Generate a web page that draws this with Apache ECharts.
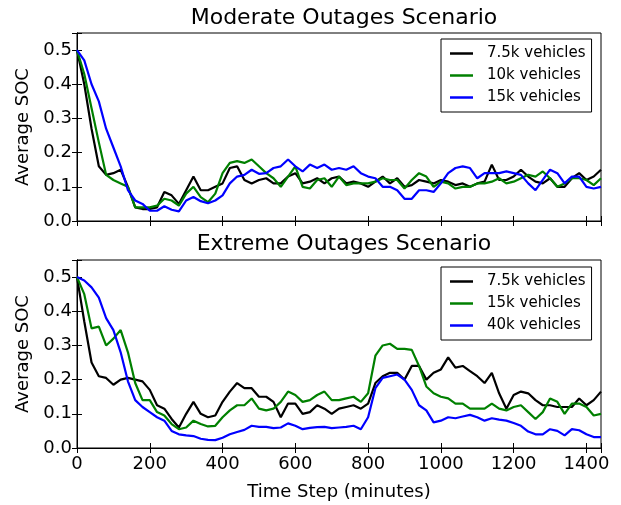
<!DOCTYPE html>
<html>
<head>
<meta charset="utf-8">
<script src="https://cdn.jsdelivr.net/npm/echarts@6/dist/echarts.min.js"></script>
<style>
html,body{margin:0;padding:0;background:#fff;}
#chart{width:621px;height:505px;}
</style>
</head>
<body>
<div id="chart"></div>
<script>
// Time steps (minutes)
const timeSteps = [
  0,20,40,60,80,100,120,140,160,180,
  200,220,240,260,280,300,320,340,360,380,
  400,420,440,460,480,500,520,540,560,580,
  600,620,640,660,680,700,720,740,760,780,
  800,820,840,860,880,900,920,940,960,980,
  1000,1020,1040,1060,1080,1100,1120,1140,1160,1180,
  1200,1220,1240,1260,1280,1300,1320,1340,1360,1380,
  1400,1420,1440
];

// Moderate Outages Scenario
const modNames = ['7.5k vehicles', '10k vehicles', '15k vehicles'];
const mod7_5k = [
  0.50,0.40,0.27,0.16,0.135,0.14,0.15,0.10,0.04,0.035,
  0.035,0.04,0.085,0.075,0.05,0.09,0.13,0.09,0.09,0.10,
  0.11,0.155,0.16,0.12,0.11,0.12,0.125,0.11,0.11,0.13,
  0.14,0.11,0.115,0.125,0.11,0.125,0.13,0.11,0.115,0.11,
  0.10,0.115,0.13,0.11,0.125,0.10,0.105,0.12,0.115,0.11,
  0.12,0.115,0.105,0.11,0.10,0.11,0.115,0.165,0.12,0.12,
  0.13,0.15,0.13,0.115,0.11,0.125,0.10,0.10,0.125,0.14,
  0.12,0.13,0.15
];
const mod10k = [
  0.50,0.43,0.33,0.23,0.135,0.12,0.11,0.10,0.04,0.04,
  0.04,0.045,0.065,0.06,0.045,0.08,0.10,0.07,0.055,0.08,
  0.14,0.17,0.175,0.17,0.18,0.16,0.14,0.125,0.10,0.13,
  0.16,0.10,0.095,0.12,0.125,0.10,0.13,0.105,0.11,0.11,
  0.11,0.115,0.125,0.12,0.12,0.095,0.12,0.14,0.13,0.10,
  0.115,0.11,0.095,0.10,0.10,0.11,0.11,0.115,0.125,0.11,
  0.115,0.125,0.135,0.13,0.145,0.125,0.10,0.11,0.125,0.125,
  0.12,0.105,0.125
];
const mod15k = [
  0.50,0.47,0.40,0.35,0.27,0.215,0.16,0.09,0.06,0.05,
  0.03,0.03,0.043,0.033,0.028,0.06,0.07,0.058,0.052,0.06,
  0.075,0.11,0.13,0.135,0.15,0.138,0.14,0.155,0.16,0.18,
  0.16,0.145,0.165,0.155,0.165,0.15,0.155,0.15,0.16,0.14,
  0.13,0.125,0.10,0.10,0.09,0.065,0.065,0.09,0.09,0.085,
  0.11,0.14,0.155,0.16,0.155,0.125,0.14,0.14,0.14,0.145,
  0.14,0.135,0.11,0.09,0.12,0.15,0.14,0.11,0.13,0.13,
  0.10,0.095,0.10
];

// Extreme Outages Scenario
const extNames = ['7.5k vehicles', '15k vehicles', '40k vehicles'];
const ext7_5k = [
  0.50,0.37,0.25,0.21,0.205,0.185,0.20,0.205,0.20,0.195,
  0.17,0.125,0.115,0.085,0.06,0.10,0.135,0.10,0.09,0.095,
  0.135,0.165,0.19,0.175,0.175,0.15,0.15,0.135,0.09,0.13,
  0.13,0.10,0.105,0.125,0.115,0.10,0.115,0.12,0.125,0.115,
  0.13,0.19,0.21,0.22,0.22,0.20,0.24,0.24,0.20,0.22,
  0.23,0.265,0.235,0.24,0.225,0.21,0.19,0.22,0.16,0.115,
  0.155,0.165,0.16,0.14,0.125,0.125,0.12,0.12,0.12,0.145,
  0.125,0.14,0.165
];
const ext15k = [
  0.50,0.45,0.35,0.355,0.30,0.32,0.345,0.28,0.19,0.14,
  0.14,0.105,0.095,0.07,0.055,0.06,0.08,0.07,0.063,0.065,
  0.09,0.11,0.125,0.125,0.145,0.115,0.11,0.115,0.135,0.165,
  0.155,0.135,0.14,0.155,0.165,0.14,0.14,0.145,0.15,0.135,
  0.16,0.27,0.30,0.305,0.29,0.29,0.287,0.24,0.18,0.16,
  0.15,0.145,0.13,0.13,0.115,0.115,0.115,0.13,0.115,0.11,
  0.12,0.125,0.105,0.085,0.105,0.145,0.135,0.10,0.13,0.13,
  0.12,0.095,0.10
];
const ext40k = [
  0.50,0.49,0.47,0.44,0.38,0.345,0.28,0.195,0.14,0.12,
  0.105,0.09,0.08,0.05,0.04,0.037,0.035,0.027,0.024,0.023,
  0.03,0.04,0.047,0.053,0.065,0.062,0.062,0.058,0.06,0.072,
  0.065,0.055,0.059,0.061,0.062,0.058,0.06,0.062,0.065,0.055,
  0.09,0.175,0.205,0.21,0.215,0.20,0.17,0.125,0.11,0.075,
  0.08,0.09,0.087,0.092,0.097,0.09,0.08,0.087,0.083,0.08,
  0.073,0.065,0.048,0.04,0.04,0.055,0.05,0.037,0.055,0.052,
  0.04,0.032,0.032
];

const xTicks = [0,200,400,600,800,1000,1200,1400];
const yTicks = [0.0,0.1,0.2,0.3,0.4,0.5];
const titles = ['Moderate Outages Scenario', 'Extreme Outages Scenario'];
const xName = 'Time Step (minutes)';
const yName = 'Average SOC';

const colors = ['#000000', '#008000', '#0000ff'];
const FONT = 'DejaVu Sans';

const chart = echarts.init(document.getElementById('chart'), null, {renderer: 'canvas'});

const gridTops = [33, 260];
const gridH = 188;
const grids = gridTops.map(t => ({
  left: 77, right: 20, top: t, height: gridH,
  show: true, borderColor: '#000', borderWidth: 1, backgroundColor: '#fff'
}));

const xAxes = [];
const yAxes = [];
[0,1].forEach(g => {
  const showLabels = g === 1;
  xAxes.push({
    type: 'value', gridIndex: g, min: 0, max: 1440, interval: 200,
    position: 'bottom',
    axisLine: {show: true, lineStyle: {color: '#000', width: 1}},
    axisTick: {show: true, inside: true, length: 5, lineStyle: {color: '#000'}},
    splitLine: {show: false},
    axisLabel: {
      show: showLabels, margin: 7, color: '#000', fontFamily: FONT, fontSize: 18,
      formatter: v => xTicks.includes(v) ? String(v) : ''
    },
    name: showLabels ? xName : '',
    nameLocation: 'middle', nameGap: 35,
    nameTextStyle: {color: '#000', fontFamily: FONT, fontSize: 18}
  });
  xAxes.push({
    type: 'value', gridIndex: g, min: 0, max: 1440, interval: 200,
    position: 'top',
    axisLine: {show: true, lineStyle: {color: '#000', width: 1}},
    axisTick: {show: true, inside: true, length: 5, lineStyle: {color: '#000'}},
    splitLine: {show: false},
    axisLabel: {show: false}
  });
  yAxes.push({
    type: 'value', gridIndex: g, min: 0, max: 0.55, interval: 0.1,
    position: 'left',
    axisLine: {show: true, lineStyle: {color: '#000', width: 1}},
    axisTick: {show: true, inside: true, length: 5, lineStyle: {color: '#000'}},
    splitLine: {show: false},
    axisLabel: {
      show: true, margin: 5, color: '#000', fontFamily: FONT, fontSize: 18,
      formatter: v => yTicks.some(t => Math.abs(t - v) < 1e-9) ? v.toFixed(1) : ''
    },
    name: yName, nameLocation: 'middle', nameGap: 42, nameRotate: 90,
    nameTextStyle: {color: '#000', fontFamily: FONT, fontSize: 18}
  });
  yAxes.push({
    type: 'value', gridIndex: g, min: 0, max: 0.55, interval: 0.1,
    position: 'right',
    axisLine: {show: true, lineStyle: {color: '#000', width: 1}},
    axisTick: {show: true, inside: true, length: 5, lineStyle: {color: '#000'}},
    splitLine: {show: false},
    axisLabel: {show: false}
  });
});

function mk(name, vals, color, g) {
  return {
    name: name, type: 'line', xAxisIndex: g * 2, yAxisIndex: g * 2,
    data: timeSteps.map((t, i) => [t, vals[i]]),
    showSymbol: false, symbol: 'none', smooth: false,
    lineStyle: {color: color, width: 2.2}, itemStyle: {color: color},
    animation: false
  };
}

const seriesTop = [mod7_5k, mod10k, mod15k].map((v, i) => mk(modNames[i], v, colors[i], 0));
const seriesBot = [ext7_5k, ext15k, ext40k].map((v, i) => mk(extNames[i], v, colors[i], 1));

function legendAt(top, names) {
  return {
    show: true, orient: 'vertical', left: 441, top: top,
    data: names.map((n, i) => ({name: n, itemStyle: {color: colors[i]}})),
    itemWidth: 23, itemHeight: 14, itemGap: 7,
    padding: [7, 6, 7, 9],
    borderColor: '#000', borderWidth: 1, borderRadius: 0, backgroundColor: '#fff',
    icon: 'path://M0,6 L23,6 L23,8.5 L0,8.5 Z',
    formatter: n => '{t|' + n + '}',
    textStyle: {
      color: '#000', fontFamily: FONT, fontSize: 15,
      rich: {t: {color: '#000', fontFamily: FONT, fontSize: 15, padding: [0, 0, 0, 9]}}
    },
    selectedMode: false
  };
}

chart.setOption({
  animation: false,
  backgroundColor: '#fff',
  title: titles.map((t, i) => ({
    text: t, left: 339, top: i === 0 ? 2 : 228.5, textAlign: 'center',
    textStyle: {color: '#000', fontFamily: FONT, fontSize: 22, fontWeight: 'normal'}
  })),
  grid: grids,
  xAxis: xAxes,
  yAxis: yAxes,
  legend: [legendAt(39, modNames), legendAt(267, extNames)],
  series: seriesTop.concat(seriesBot)
});
</script>
</body>
</html>
